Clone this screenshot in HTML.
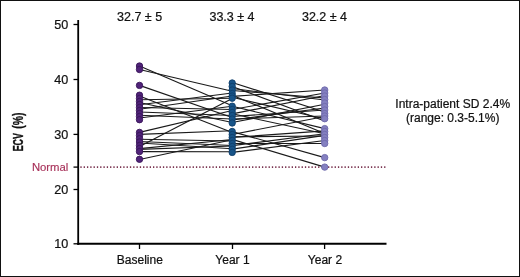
<!DOCTYPE html>
<html><head><meta charset="utf-8"><style>
html,body{margin:0;padding:0;background:#fff;}
svg{display:block;will-change:transform;}
text{font-family:"Liberation Sans",sans-serif;}
</style></head><body>
<svg width="520" height="277" viewBox="0 0 520 277">
<rect x="0" y="0" width="520" height="277" fill="#fff"/>
<rect x="0.5" y="0.5" width="519" height="276" fill="none" stroke="#111" stroke-width="1"/>
<!-- normal dotted line -->
<line x1="80.35" y1="167.1" x2="385.4" y2="167.1" stroke="#7a3450" stroke-width="1.6" stroke-dasharray="1.3 2.002"/>
<!-- lines -->
<g stroke="#1a1a1a" stroke-width="1.15" fill="none"><line x1="139.5" y1="66" x2="232.2" y2="105.8"/><line x1="139.5" y1="69.5" x2="232.2" y2="91.2"/><line x1="139.5" y1="85.4" x2="232.2" y2="117.5"/><line x1="139.5" y1="96" x2="232.2" y2="132.5"/><line x1="139.5" y1="99.8" x2="232.2" y2="98.2"/><line x1="139.5" y1="102.5" x2="232.2" y2="122.5"/><line x1="139.5" y1="104.8" x2="232.2" y2="93"/><line x1="139.5" y1="107.5" x2="232.2" y2="109.5"/><line x1="139.5" y1="109.2" x2="232.2" y2="96"/><line x1="139.5" y1="112" x2="232.2" y2="115.5"/><line x1="139.5" y1="115.3" x2="232.2" y2="119"/><line x1="139.5" y1="118" x2="232.2" y2="106.2"/><line x1="139.5" y1="132.4" x2="232.2" y2="110.5"/><line x1="139.5" y1="134.4" x2="232.2" y2="130.8"/><line x1="139.5" y1="139.2" x2="232.2" y2="141"/><line x1="139.5" y1="141.5" x2="232.2" y2="145.5"/><line x1="139.5" y1="143" x2="232.2" y2="148.8"/><line x1="139.5" y1="146.5" x2="232.2" y2="98.5"/><line x1="139.5" y1="148.6" x2="232.2" y2="139.5"/><line x1="139.5" y1="149.4" x2="232.2" y2="146"/><line x1="139.5" y1="151.6" x2="232.2" y2="151.7"/><line x1="139.5" y1="159.5" x2="232.2" y2="139.8"/><line x1="232.2" y1="82.5" x2="324.7" y2="112"/><line x1="232.2" y1="86.5" x2="324.7" y2="121"/><line x1="232.2" y1="88.5" x2="324.7" y2="100"/><line x1="232.2" y1="90.5" x2="324.7" y2="98"/><line x1="232.2" y1="96.4" x2="324.7" y2="90"/><line x1="232.2" y1="95.2" x2="324.7" y2="133.5"/><line x1="232.2" y1="97.3" x2="324.7" y2="119"/><line x1="232.2" y1="106.2" x2="324.7" y2="128.6"/><line x1="232.2" y1="109.5" x2="324.7" y2="93"/><line x1="232.2" y1="113.9" x2="324.7" y2="95.5"/><line x1="232.2" y1="113.8" x2="324.7" y2="133.7"/><line x1="232.2" y1="116.5" x2="324.7" y2="110"/><line x1="232.2" y1="119" x2="324.7" y2="116"/><line x1="232.2" y1="120" x2="324.7" y2="108"/><line x1="232.2" y1="122.5" x2="324.7" y2="104.2"/><line x1="232.2" y1="131.6" x2="324.7" y2="157.6"/><line x1="232.2" y1="134.5" x2="324.7" y2="116.5"/><line x1="232.2" y1="137.4" x2="324.7" y2="130.9"/><line x1="232.2" y1="136.8" x2="324.7" y2="136"/><line x1="232.2" y1="139.4" x2="324.7" y2="167.1"/><line x1="232.2" y1="143.5" x2="324.7" y2="143.5"/><line x1="232.2" y1="145.6" x2="324.7" y2="133.8"/><line x1="232.2" y1="149.1" x2="324.7" y2="135.4"/><line x1="232.2" y1="152.4" x2="324.7" y2="140.5"/></g>
<!-- dots -->
<circle cx="139.5" cy="66" r="3.2" fill="#502379" stroke="#381458" stroke-width="0.9"/><circle cx="139.5" cy="69.5" r="3.2" fill="#502379" stroke="#381458" stroke-width="0.9"/><circle cx="139.5" cy="85.4" r="3.2" fill="#502379" stroke="#381458" stroke-width="0.9"/><circle cx="139.5" cy="95.2" r="3.2" fill="#502379" stroke="#381458" stroke-width="0.9"/><circle cx="139.5" cy="98.5" r="3.2" fill="#502379" stroke="#381458" stroke-width="0.9"/><circle cx="139.5" cy="101.5" r="3.2" fill="#502379" stroke="#381458" stroke-width="0.9"/><circle cx="139.5" cy="104.5" r="3.2" fill="#502379" stroke="#381458" stroke-width="0.9"/><circle cx="139.5" cy="107.5" r="3.2" fill="#502379" stroke="#381458" stroke-width="0.9"/><circle cx="139.5" cy="110.5" r="3.2" fill="#502379" stroke="#381458" stroke-width="0.9"/><circle cx="139.5" cy="113.5" r="3.2" fill="#502379" stroke="#381458" stroke-width="0.9"/><circle cx="139.5" cy="116.5" r="3.2" fill="#502379" stroke="#381458" stroke-width="0.9"/><circle cx="139.5" cy="119.7" r="3.2" fill="#502379" stroke="#381458" stroke-width="0.9"/><circle cx="139.5" cy="132.4" r="3.2" fill="#502379" stroke="#381458" stroke-width="0.9"/><circle cx="139.5" cy="135.5" r="3.2" fill="#502379" stroke="#381458" stroke-width="0.9"/><circle cx="139.5" cy="138.7" r="3.2" fill="#502379" stroke="#381458" stroke-width="0.9"/><circle cx="139.5" cy="142" r="3.2" fill="#502379" stroke="#381458" stroke-width="0.9"/><circle cx="139.5" cy="145.5" r="3.2" fill="#502379" stroke="#381458" stroke-width="0.9"/><circle cx="139.5" cy="148.5" r="3.2" fill="#502379" stroke="#381458" stroke-width="0.9"/><circle cx="139.5" cy="151.6" r="3.2" fill="#502379" stroke="#381458" stroke-width="0.9"/><circle cx="139.5" cy="159.3" r="3.2" fill="#502379" stroke="#381458" stroke-width="0.9"/>
<circle cx="232.2" cy="83" r="3.2" fill="#185488" stroke="#10406c" stroke-width="0.9"/><circle cx="232.2" cy="86.5" r="3.2" fill="#185488" stroke="#10406c" stroke-width="0.9"/><circle cx="232.2" cy="90" r="3.2" fill="#185488" stroke="#10406c" stroke-width="0.9"/><circle cx="232.2" cy="93.5" r="3.2" fill="#185488" stroke="#10406c" stroke-width="0.9"/><circle cx="232.2" cy="96" r="3.2" fill="#185488" stroke="#10406c" stroke-width="0.9"/><circle cx="232.2" cy="98.2" r="3.2" fill="#185488" stroke="#10406c" stroke-width="0.9"/><circle cx="232.2" cy="106.2" r="3.2" fill="#185488" stroke="#10406c" stroke-width="0.9"/><circle cx="232.2" cy="109.5" r="3.2" fill="#185488" stroke="#10406c" stroke-width="0.9"/><circle cx="232.2" cy="112.5" r="3.2" fill="#185488" stroke="#10406c" stroke-width="0.9"/><circle cx="232.2" cy="115.5" r="3.2" fill="#185488" stroke="#10406c" stroke-width="0.9"/><circle cx="232.2" cy="119" r="3.2" fill="#185488" stroke="#10406c" stroke-width="0.9"/><circle cx="232.2" cy="123" r="3.2" fill="#185488" stroke="#10406c" stroke-width="0.9"/><circle cx="232.2" cy="131.5" r="3.2" fill="#185488" stroke="#10406c" stroke-width="0.9"/><circle cx="232.2" cy="134.5" r="3.2" fill="#185488" stroke="#10406c" stroke-width="0.9"/><circle cx="232.2" cy="137.5" r="3.2" fill="#185488" stroke="#10406c" stroke-width="0.9"/><circle cx="232.2" cy="140.5" r="3.2" fill="#185488" stroke="#10406c" stroke-width="0.9"/><circle cx="232.2" cy="143.5" r="3.2" fill="#185488" stroke="#10406c" stroke-width="0.9"/><circle cx="232.2" cy="146.5" r="3.2" fill="#185488" stroke="#10406c" stroke-width="0.9"/><circle cx="232.2" cy="149.3" r="3.2" fill="#185488" stroke="#10406c" stroke-width="0.9"/><circle cx="232.2" cy="152.4" r="3.2" fill="#185488" stroke="#10406c" stroke-width="0.9"/>
<circle cx="324.7" cy="90" r="3.2" fill="#8480c0" stroke="#6e69ac" stroke-width="0.9"/><circle cx="324.7" cy="93" r="3.2" fill="#8480c0" stroke="#6e69ac" stroke-width="0.9"/><circle cx="324.7" cy="96" r="3.2" fill="#8480c0" stroke="#6e69ac" stroke-width="0.9"/><circle cx="324.7" cy="99.5" r="3.2" fill="#8480c0" stroke="#6e69ac" stroke-width="0.9"/><circle cx="324.7" cy="103" r="3.2" fill="#8480c0" stroke="#6e69ac" stroke-width="0.9"/><circle cx="324.7" cy="106.5" r="3.2" fill="#8480c0" stroke="#6e69ac" stroke-width="0.9"/><circle cx="324.7" cy="110" r="3.2" fill="#8480c0" stroke="#6e69ac" stroke-width="0.9"/><circle cx="324.7" cy="113.5" r="3.2" fill="#8480c0" stroke="#6e69ac" stroke-width="0.9"/><circle cx="324.7" cy="116" r="3.2" fill="#8480c0" stroke="#6e69ac" stroke-width="0.9"/><circle cx="324.7" cy="118.7" r="3.2" fill="#8480c0" stroke="#6e69ac" stroke-width="0.9"/><circle cx="324.7" cy="128.6" r="3.2" fill="#8480c0" stroke="#6e69ac" stroke-width="0.9"/><circle cx="324.7" cy="131.5" r="3.2" fill="#8480c0" stroke="#6e69ac" stroke-width="0.9"/><circle cx="324.7" cy="134.5" r="3.2" fill="#8480c0" stroke="#6e69ac" stroke-width="0.9"/><circle cx="324.7" cy="137.5" r="3.2" fill="#8480c0" stroke="#6e69ac" stroke-width="0.9"/><circle cx="324.7" cy="140.5" r="3.2" fill="#8480c0" stroke="#6e69ac" stroke-width="0.9"/><circle cx="324.7" cy="143.5" r="3.2" fill="#8480c0" stroke="#6e69ac" stroke-width="0.9"/><circle cx="324.7" cy="157.6" r="3.2" fill="#8480c0" stroke="#6e69ac" stroke-width="0.9"/><circle cx="324.7" cy="167.1" r="3.2" fill="#8480c0" stroke="#6e69ac" stroke-width="0.9"/>
<!-- axes -->
<g stroke="#000" stroke-width="1.8" fill="none">
<line x1="78.2" y1="20" x2="78.2" y2="244.9"/>
<line x1="77.3" y1="243.8" x2="386.5" y2="243.8" stroke-width="2"/>
</g>
<g stroke="#000" stroke-width="1.3"><line x1="73.5" y1="24.50" x2="78" y2="24.50"/><line x1="73.5" y1="79.50" x2="78" y2="79.50"/><line x1="73.5" y1="134.40" x2="78" y2="134.40"/><line x1="73.5" y1="189.50" x2="78" y2="189.50"/><line x1="73.5" y1="243.80" x2="78" y2="243.80"/>
<line x1="73.5" y1="167.1" x2="78" y2="167.1"/>
<line x1="139.5" y1="244" x2="139.5" y2="249"/>
<line x1="232.5" y1="244" x2="232.5" y2="249"/>
<line x1="324.6" y1="244" x2="324.6" y2="249"/>
</g>
<g font-size="12.6" fill="#111" stroke="#111" stroke-width="0.22"><text x="68.3" y="28.60" text-anchor="end">50</text><text x="68.3" y="83.60" text-anchor="end">40</text><text x="68.3" y="138.50" text-anchor="end">30</text><text x="68.3" y="193.60" text-anchor="end">20</text><text x="68.3" y="247.90" text-anchor="end">10</text></g>
<text x="68.3" y="170.6" font-size="11.3" fill="#a8325a" stroke="#a8325a" stroke-width="0.15" text-anchor="end">Normal</text>
<g font-size="12" fill="#111" stroke="#111" stroke-width="0.22" text-anchor="middle">
<text x="139.6" y="20.9" font-size="12.5">32.7 ± 5</text>
<text x="232" y="20.9" font-size="12.5">33.3 ± 4</text>
<text x="324.5" y="20.9" font-size="12.5">32.2 ± 4</text>
<text x="139.8" y="263.5">Baseline</text>
<text x="232.5" y="263.5">Year 1</text>
<text x="325" y="263.5">Year 2</text>
<text x="452.7" y="108.2">Intra-patient SD 2.4%</text>
<text x="452.7" y="122.2">(range: 0.3-5.1%)</text>
</g>
<text transform="translate(23.3,142.2) rotate(-90) scale(0.6,1)" font-size="14.8" font-weight="bold" fill="#111" stroke="#111" stroke-width="0.35" text-anchor="middle">ECV</text>
<text transform="translate(23.3,120.7) rotate(-90) scale(0.7,1)" font-size="14.8" font-weight="bold" fill="#111" stroke="#111" stroke-width="0.35" text-anchor="middle">(%)</text>
</svg>
</body></html>
